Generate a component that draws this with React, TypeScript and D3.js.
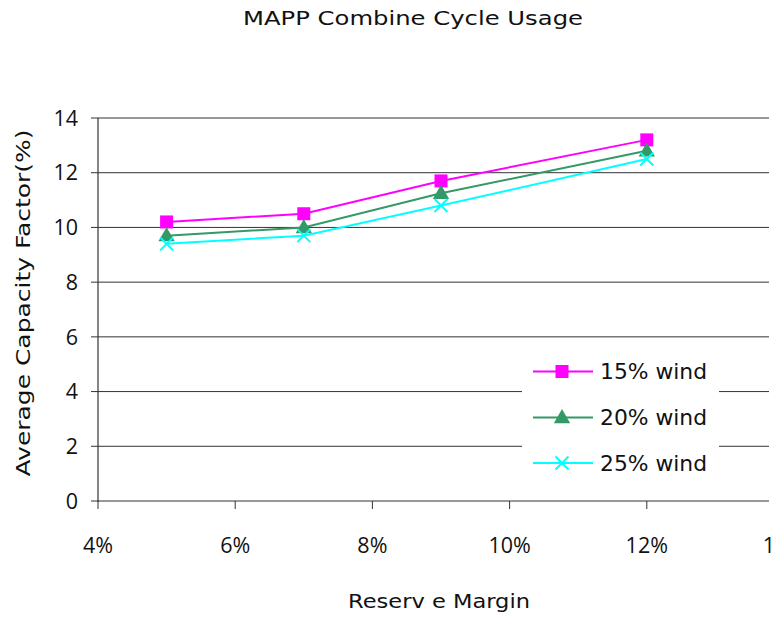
import React, { useEffect } from "react";
import * as d3 from "d3";

// Reserve margin (%) on the x axis
const reserveMargin = [5, 7, 9, 12];
// Average capacity factor (%) for each wind penetration level
const wind15 = [10.2, 10.5, 11.7, 13.2];
const wind20 = [9.7, 10.0, 11.25, 12.8];
const wind25 = [9.4, 9.7, 10.8, 12.5];
const seriesNames = ["15% wind", "20% wind", "25% wind"];
const xTicks = [4, 6, 8, 10, 12, 14];
const yTicks = [0, 2, 4, 6, 8, 10, 12, 14];

const W = 773;
const H = 620;
const left = 98;
const right = 769;
const top = 118;
const bottom = 501;

const x = d3.scaleLinear().domain([4, 14]).range([left, left + 5 * 137.2]);
const y = d3.scaleLinear().domain([0, 14]).range([bottom, top]);

const colors = ["#FF00FF", "#339966", "#00FFFF"];
const markers = ["square", "triangle", "cross"];
const titleFont = "'DejaVu Sans', sans-serif";
const tickFont = "'Open Sans', sans-serif";

function Marker({ kind, cx, cy, color }: { kind: string; cx: number; cy: number; color: string }) {
  if (kind === "square") {
    return <rect x={cx - 6.5} y={cy - 6.5} width={13} height={13} fill={color} />;
  }
  if (kind === "triangle") {
    const tri = d3.symbol(d3.symbolTriangle, 115)();
    return <path d={tri || ""} transform={`translate(${cx},${cy + 1})`} fill={color} />;
  }
  return (
    <g stroke={color} strokeWidth={2}>
      <line x1={cx - 6.5} y1={cy - 6.5} x2={cx + 6.5} y2={cy + 6.5} />
      <line x1={cx - 6.5} y1={cy + 6.5} x2={cx + 6.5} y2={cy - 6.5} />
    </g>
  );
}

export default function App() {
  useEffect(() => {
    document.body.style.margin = "0";
  }, []);

  const series = [wind15, wind20, wind25];
  const line = d3
    .line<number>()
    .x((_, i) => x(reserveMargin[i]))
    .y((d) => y(d));

  const legendY = [371.5, 417.5, 463];

  return (
    <svg width={W} height={H} style={{ display: "block", background: "#fff" }}>
      <text x={413} y={25} textAnchor="middle" fontFamily={titleFont} fontSize={19} fill="#111"
        textLength={340} lengthAdjust="spacingAndGlyphs">
        MAPP Combine Cycle Usage
      </text>

      {/* horizontal gridlines and y ticks */}
      {yTicks.map((t) => (
        <g key={t}>
          <line x1={91} x2={right} y1={y(t)} y2={y(t)} stroke="#333" strokeWidth={1} />
          <text x={78} y={y(t)} dy="0.36em" textAnchor="end" fontFamily={tickFont} fontSize={21.5} fill="#111">
            {t}
          </text>
        </g>
      ))}

      {/* y axis */}
      <line x1={left} x2={left} y1={top} y2={bottom + 1} stroke="#333" strokeWidth={1.2} />

      {/* x ticks */}
      {xTicks.map((t) => (
        <g key={t}>
          <line x1={x(t)} x2={x(t)} y1={bottom} y2={bottom + 8} stroke="#333" strokeWidth={1} />
          <text x={x(t)} y={553} textAnchor="middle" fontFamily={tickFont} fontSize={21.5} fill="#111">
            {t}%
          </text>
        </g>
      ))}

      {/* series */}
      {series.map((s, si) => (
        <g key={si}>
          <path d={line(s) || ""} fill="none" stroke={colors[si]} strokeWidth={2} />
          {s.map((v, i) => (
            <Marker key={i} kind={markers[si]} cx={x(reserveMargin[i])} cy={y(v)} color={colors[si]} />
          ))}
        </g>
      ))}

      {/* legend */}
      <rect x={522} y={350} width={197} height={130} fill="#fff" />
      {seriesNames.map((n, i) => (
        <g key={n}>
          <line x1={533} x2={593} y1={legendY[i]} y2={legendY[i]} stroke={colors[i]} strokeWidth={2} />
          <Marker kind={markers[i]} cx={562} cy={legendY[i]} color={colors[i]} />
          <text x={600} y={legendY[i]} dy="0.36em" fontFamily={titleFont} fontSize={21} fill="#111"
            textLength={107} lengthAdjust="spacingAndGlyphs">
            {n}
          </text>
        </g>
      ))}

      {/* axis titles */}
      <text x={439} y={608} textAnchor="middle" fontFamily={titleFont} fontSize={20} fill="#111"
        textLength={182} lengthAdjust="spacingAndGlyphs">
        Reserv e Margin
      </text>
      <text transform="translate(30,303) rotate(-90)" textAnchor="middle" fontFamily={titleFont} fontSize={20}
        fill="#111" textLength={347} lengthAdjust="spacingAndGlyphs">
        Average Capacity Factor(%)
      </text>
    </svg>
  );
}
